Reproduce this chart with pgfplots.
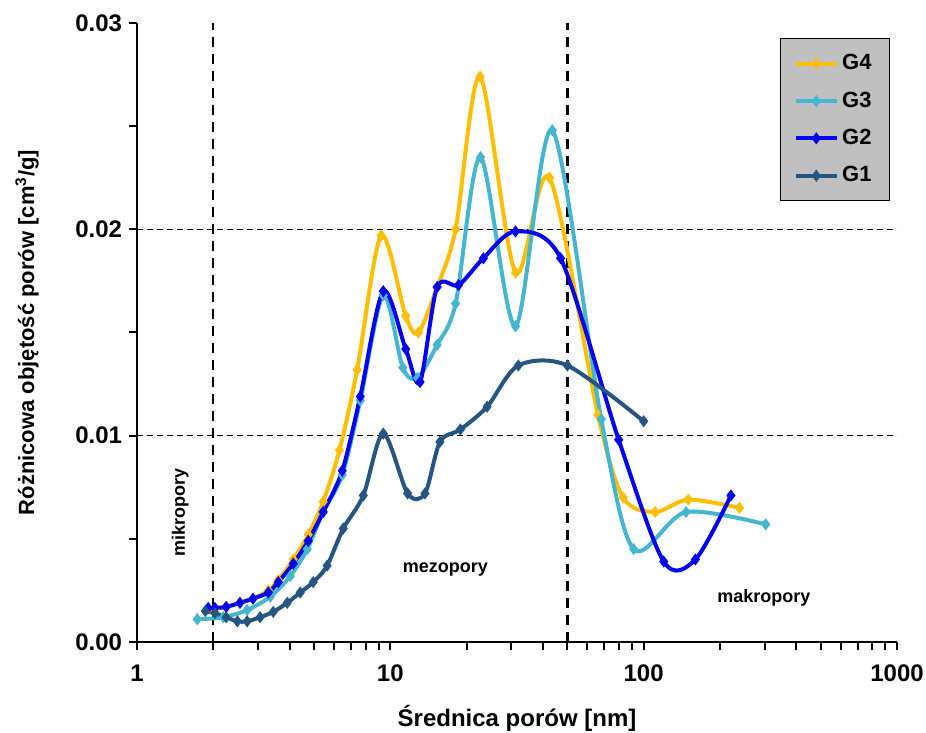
\documentclass[border=0pt]{standalone}
\usepackage{fontspec}
\setmainfont{Liberation Sans}
\usepackage{pgfplots}
\pgfplotsset{compat=1.18}
\definecolor{cG4}{RGB}{255,190,0}
\definecolor{cG3}{RGB}{69,181,208}
\definecolor{cG2}{RGB}{5,5,235}
\definecolor{cG1}{RGB}{37,85,128}
\definecolor{leggray}{RGB}{192,192,192}
\begin{document}
\begin{tikzpicture}
\begin{axis}[
  width=380pt, height=309.5pt, scale only axis,
  xmode=log, xmin=1, xmax=1000, ymin=0, ymax=0.03,
  axis lines=left, axis line style={-, line width=1pt},
  tick align=outside, major tick length=4pt, minor tick length=4pt,
  tick style={line width=1pt, black},
  xtick={1,10,100,1000}, xticklabels={1,10,100,1000},
  minor xtick={2,3,4,5,6,7,8,9,20,30,40,50,60,70,80,90,200,300,400,500,600,700,800,900},
  ytick={0,0.01,0.02,0.03}, yticklabels={0.00,0.01,0.02,0.03},
  minor ytick={0.005,0.015,0.025},
  scaled y ticks=false,
  ticklabel style={font=\fontsize{12}{14}\selectfont\bfseries},
  xticklabel style={yshift=-4pt},
  xlabel={Średnica porów [nm]},
  ylabel={Różnicowa objętość porów [cm\textsuperscript{3}/g]},
  every axis x label/.style={at={(axis description cs:0.5,-0.1228)}, anchor=center, font=\fontsize{12}{14}\selectfont\bfseries},
  every axis y label/.style={at={(axis description cs:-0.1447,0.5)}, anchor=center, rotate=90, font=\fontsize{11}{13}\selectfont\bfseries},
  legend style={fill=leggray, draw=black, line width=0.6pt, at={(rel axis cs:0.991,0.976)}, anchor=north east,
    font=\fontsize{11}{13}\selectfont\bfseries, row sep=5.5pt, inner xsep=7pt, inner ysep=6pt},
  legend cell align=left,
  legend image code/.code={\draw[mark repeat=2,mark phase=2,#1] plot coordinates {(0cm,0cm) (0.35cm,0cm) (0.7cm,0cm)};},
  every axis plot/.append style={line width=2pt, smooth, mark=diamond*, mark size=1.4pt, mark options={solid}},
]
% reference lines
\addplot[forget plot, no marks, black, line width=0.6pt, dash pattern=on 3pt off 2pt, sharp plot] coordinates {(1,0.01) (1000,0.01)};
\addplot[forget plot, no marks, black, line width=0.6pt, dash pattern=on 3pt off 2pt, sharp plot] coordinates {(1,0.02) (1000,0.02)};
\addplot[forget plot, no marks, black, line width=1.1pt, dash pattern=on 5pt off 3.5pt, sharp plot] coordinates {(2,0) (2,0.03)};
\addplot[forget plot, no marks, black, line width=1.1pt, dash pattern=on 5pt off 3.5pt, sharp plot] coordinates {(50,0) (50,0.03)};

% G4
\addplot[cG4] coordinates {
(1.91,0.0016) (2.03,0.0016) (2.25,0.0017) (2.55,0.0019) (2.87,0.0021) (3.30,0.0025)
(3.61,0.0030) (4.14,0.0040) (4.74,0.0052) (5.43,0.0068) (6.3,0.0093) (7.4,0.0132)
(9.2,0.0197) (11.5,0.0158) (12.9,0.0150) (15.3,0.0172) (18.1,0.0200) (22.6,0.0274)
(31.2,0.0179) (42.5,0.0225) (66,0.0110) (83,0.0070) (111,0.0063) (150,0.0069) (239,0.0065)};
\addlegendentry{G4}
% G3
\addplot[cG3] coordinates {
(1.73,0.0011) (2.19,0.0012) (2.72,0.00155) (3.36,0.0022) (4.03,0.0032) (4.70,0.0045)
(5.43,0.0063) (6.46,0.0081) (7.61,0.0117) (9.38,0.0168) (11.2,0.0133) (12.8,0.0128)
(15.3,0.0144) (18.1,0.0164) (22.7,0.0235) (31.2,0.0153) (43.6,0.0248) (68,0.0108) (91.3,0.0045)
(147,0.0063) (303,0.0057)};
\addlegendentry{G3}
% G2
\addplot[cG2] coordinates {
(1.91,0.00165) (2.03,0.00165) (2.25,0.0017) (2.55,0.0019) (2.87,0.0021) (3.30,0.0024)
(3.61,0.0029) (4.14,0.0038) (4.74,0.0049) (5.43,0.0063) (6.46,0.0083) (7.61,0.0119)
(9.38,0.0170) (11.5,0.0142) (13.1,0.0126) (15.3,0.0172) (18.6,0.0173) (23.3,0.0186)
(31.2,0.0199) (47,0.0186) (79.7,0.0098) (120,0.0039) (160,0.0040) (221,0.0071)};
\addlegendentry{G2}
% G1
\addplot[cG1] coordinates {
(1.86,0.0015) (2.03,0.0014) (2.25,0.0012) (2.49,0.0010) (2.72,0.0010) (3.06,0.0012)
(3.45,0.00146) (3.92,0.0019) (4.41,0.0024) (4.96,0.0029) (5.63,0.0037) (6.52,0.0055)
(7.82,0.0071) (9.38,0.0101) (11.7,0.0072) (13.7,0.0072) (15.7,0.0097) (18.9,0.0103)
(24.1,0.0114) (32.0,0.0134) (50.0,0.0134) (100,0.0107)};
\addlegendentry{G1}

\node[font=\fontsize{9}{11}\selectfont\bfseries, rotate=90] at (axis cs:1.48,0.0063) {mikropory};
\node[font=\fontsize{9}{11}\selectfont\bfseries] at (axis cs:16.5,0.0035) {mezopory};
\node[font=\fontsize{9}{11}\selectfont\bfseries] at (axis cs:298,0.00213) {makropory};

\coordinate (SW) at (rel axis cs:0,0);
\coordinate (NE) at (rel axis cs:1,1);
\end{axis}
\pgfresetboundingbox
\path[use as bounding box] ([shift={(-68.5pt,-45.5pt)}]SW) rectangle ([shift={(14.5pt,11.5pt)}]NE);
\end{tikzpicture}
\end{document}
